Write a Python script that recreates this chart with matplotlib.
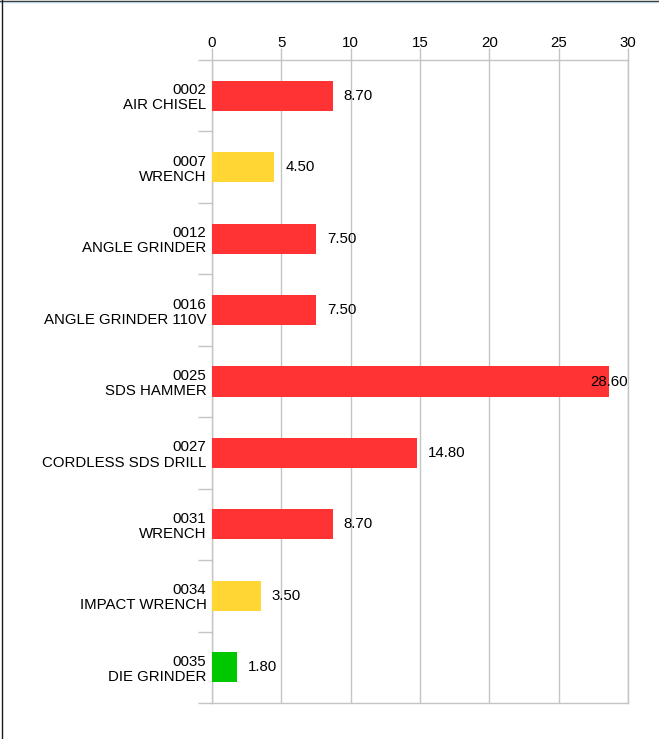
import matplotlib
matplotlib.use("Agg")
import matplotlib.pyplot as plt
from matplotlib.lines import Line2D
import numpy as np

plt.rcParams['font.family'] = ['Liberation Sans', 'DejaVu Sans']

# data
codes = ["0002", "0007", "0012", "0016", "0025", "0027", "0031", "0034", "0035"]
names = ["AIR CHISEL", "WRENCH", "ANGLE GRINDER", "ANGLE GRINDER 110V", "SDS HAMMER",
         "CORDLESS SDS DRILL", "WRENCH", "IMPACT WRENCH", "DIE GRINDER"]
values = [8.70, 4.50, 7.50, 7.50, 28.60, 14.80, 8.70, 3.50, 1.80]
status = ["red", "yellow", "red", "red", "red", "red", "red", "yellow", "green"]
x_ticks = [0, 5, 10, 15, 20, 25, 30]

palette = {"red": "#ff3333", "yellow": "#ffd633", "green": "#00c800"}
grid_col = "#c4c4c4"
fs = 10.8

fig = plt.figure(figsize=(6.59, 7.39), dpi=100)
ax = fig.add_axes([212 / 659, 1 - 703 / 739, 416 / 659, 643 / 739])

y = np.arange(len(values))
labels = [c + "\n" + n for c, n in zip(codes, names)]
colors = [palette[s] for s in status]

ax.barh(y, values, height=0.42, color=colors, zorder=3)

ax.set_xlim(0, 30)
ax.set_ylim(len(values) - 0.5, -0.5)

# x axis on top
ax.xaxis.tick_top()
ax.set_xticks(x_ticks)
ax.tick_params(axis="x", length=9, width=1, color=grid_col, pad=-2, labelsize=fs)
ax.grid(axis="x", color=grid_col, linewidth=1, zorder=0)

# y labels at centres, tick marks at boundaries
ax.set_yticks(y)
ax.set_yticklabels(labels, fontsize=fs, linespacing=1.1)
ax.set_yticks(np.arange(len(values) + 1) - 0.5, minor=True)
ax.tick_params(axis="y", which="major", length=0, pad=4)
ax.tick_params(axis="y", which="minor", length=10, width=1, color=grid_col)

for s in ax.spines.values():
    s.set_color(grid_col)
    s.set_linewidth(1)

# value labels
for yi, v in zip(y, values):
    txt = f"{v:.2f}"
    if v + 3.6 > 30:
        ax.text(30, yi, txt, ha="right", va="center", fontsize=fs, zorder=4)
    else:
        ax.annotate(txt, (v, yi), xytext=(8, 0), textcoords="offset points",
                    ha="left", va="center", fontsize=fs, zorder=4)

# outer frame (top and left edges)
fig.add_artist(Line2D([0, 1], [1 - 0.5 / 739, 1 - 0.5 / 739], color="#1a1a1a", linewidth=1))
fig.add_artist(Line2D([0, 1], [1 - 1.8 / 739, 1 - 1.8 / 739], color="#b8d0e0", linewidth=1))
fig.add_artist(Line2D([1.5 / 659, 1.5 / 659], [0, 1], color="#1a1a1a", linewidth=1))

fig.savefig("out.png", dpi=100)
